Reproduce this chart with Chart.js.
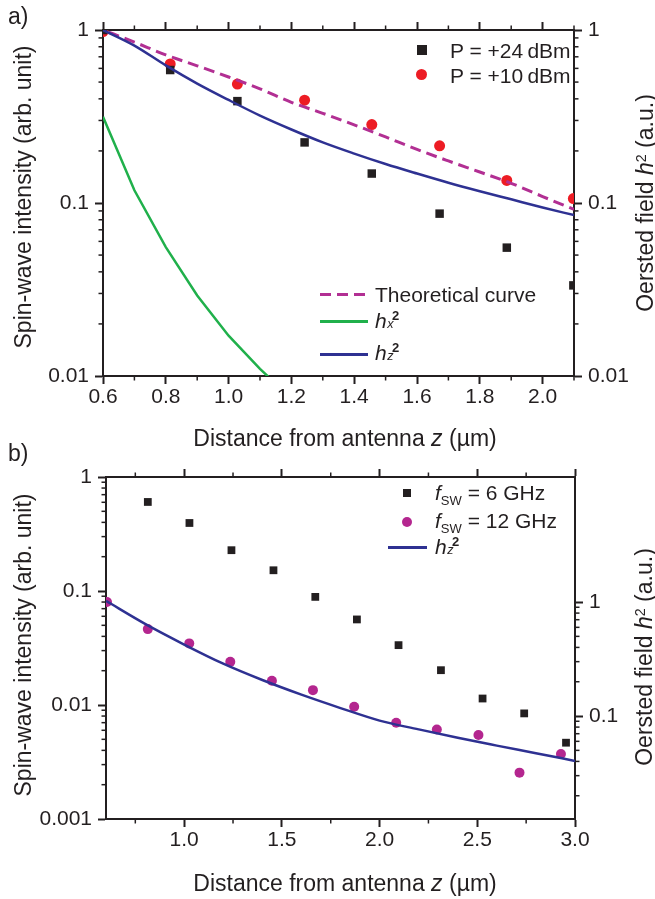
<!DOCTYPE html>
<html>
<head>
<meta charset="utf-8">
<script src="https://cdn.jsdelivr.net/npm/chart.js@4.4.0/dist/chart.umd.min.js"></script>
<style>
body{margin:0;background:#fff;width:655px;height:899px;position:relative;overflow:hidden;font-family:"Liberation Sans",Arial,sans-serif;color:#231f20}
canvas{position:absolute;left:0}
#cA{top:0}
#cB{top:430px}
.t{position:absolute;white-space:nowrap;line-height:1;font-size:23px}
.c{transform:translate(-50%,-50%)}
.r{transform:translate(-50%,-50%) rotate(-90deg)}
.lg{position:absolute;white-space:nowrap;line-height:1;font-size:21px;transform:translateY(-50%)}
.sq{position:absolute;background:#231f20}
.dot{position:absolute;border-radius:50%}
.ln{position:absolute;height:3px}
.ss{display:inline-block;position:relative;width:0.8em;height:1em;vertical-align:top}
.ss .sp{position:absolute;left:0.4em;top:-0.1em;font-size:0.62em;font-weight:bold}
.ss .sb{position:absolute;left:0.05em;top:0.62em;font-size:0.6em;font-style:italic}
.sub{position:relative;top:0.35em;font-size:0.62em}
.sup{position:relative;top:-0.5em;font-size:0.62em}
</style>
</head>
<body>
<canvas id="cA" width="655" height="430"></canvas>
<canvas id="cB" width="655" height="469"></canvas>

<!-- panel a texts -->
<div class="t" style="left:8px;top:5px">a)</div>
<div class="t r" style="left:23px;top:197px">Spin-wave intensity (arb. unit)</div>
<div class="t r" style="left:645px;top:203px">Oersted field <i>h</i><span class="sup">2</span> (a.u.)</div>
<div class="t c" style="left:345px;top:438px">Distance from antenna <i>z</i> (µm)</div>

<div class="sq" style="left:417px;top:45px;width:10px;height:10px"></div>
<div class="lg" style="left:450px;top:50px">P = +24&#8201;dBm</div>
<div class="dot" style="left:416px;top:69px;width:11px;height:11px;background:#ed1c24"></div>
<div class="lg" style="left:450px;top:75px">P = +10&#8201;dBm</div>
<div class="ln" style="left:320px;top:293px;width:48px;background:repeating-linear-gradient(to right,#b22f93 0 11px,transparent 11px 17px)"></div>
<div class="lg" style="left:375px;top:294px">Theoretical curve</div>
<div class="ln" style="left:320px;top:320px;width:48px;background:#20b04b"></div>
<div class="lg" style="left:375px;top:320px"><i>h</i><span class="ss"><span class="sp">2</span><span class="sb">x</span></span></div>
<div class="ln" style="left:320px;top:352.5px;width:48px;background:#2e3192"></div>
<div class="lg" style="left:375px;top:352px"><i>h</i><span class="ss"><span class="sp">2</span><span class="sb">z</span></span></div>

<!-- panel b texts -->
<div class="t" style="left:8px;top:442px">b)</div>
<div class="t r" style="left:23px;top:645px">Spin-wave intensity (arb. unit)</div>
<div class="t r" style="left:644px;top:657px">Oersted field <i>h</i><span class="sup">2</span> (a.u.)</div>
<div class="t c" style="left:345px;top:883px">Distance from antenna <i>z</i> (µm)</div>

<div class="sq" style="left:403px;top:489px;width:8px;height:8px"></div>
<div class="lg" style="left:435px;top:492px"><i>f</i><span class="sub">SW</span> = 6 GHz</div>
<div class="dot" style="left:402px;top:516.5px;width:10px;height:10px;background:#b4268f"></div>
<div class="lg" style="left:435px;top:520px"><i>f</i><span class="sub">SW</span> = 12 GHz</div>
<div class="ln" style="left:388px;top:546px;width:39px;height:2.5px;background:#2e3192"></div>
<div class="lg" style="left:435px;top:546px"><i>h</i><span class="ss"><span class="sp">2</span><span class="sb">z</span></span></div>

<script>
// panel a: curves on a 0.1 µm grid
const aGrid = [0.6, 0.7, 0.8, 0.9, 1.0, 1.1, 1.2, 1.3, 1.4, 1.5, 1.6, 1.7, 1.8, 1.9, 2.0, 2.1];
const aTheory = [1.0, 0.851, 0.718, 0.621, 0.535, 0.457, 0.382, 0.330, 0.283, 0.241, 0.204, 0.175, 0.151, 0.130, 0.109, 0.0918];
const aHz = [1.0, 0.813, 0.624, 0.490, 0.394, 0.320, 0.266, 0.224, 0.193, 0.168, 0.148, 0.131, 0.117, 0.105, 0.0942, 0.0851];
const aHxGrid = [0.6, 0.7, 0.8, 0.9, 1.0, 1.1, 1.2];
const aHx = [0.315, 0.1185, 0.0556, 0.0292, 0.0171, 0.011, 0.0074];
// panel a: measured points
const aMeasDist = [0.6, 0.814, 1.028, 1.242, 1.456, 1.672, 1.886, 2.098];
const aP24 = [1.0, 0.587, 0.388, 0.224, 0.148, 0.0868, 0.0552, 0.0334];
const aP10 = [0.98, 0.636, 0.487, 0.393, 0.284, 0.214, 0.135, 0.106];

// panel b
const bSqDist = [0.814, 1.027, 1.242, 1.457, 1.671, 1.884, 2.097, 2.314, 2.527, 2.74, 2.954];
const b6GHz = [0.604, 0.395, 0.228, 0.152, 0.0888, 0.0563, 0.0335, 0.0202, 0.0114, 0.00844, 0.00467];
const bDotDist = [0.605, 0.814, 1.026, 1.236, 1.449, 1.659, 1.87, 2.085, 2.293, 2.506, 2.716, 2.928];
const b12GHz = [0.0802, 0.0463, 0.0347, 0.0239, 0.0163, 0.0135, 0.00964, 0.00698, 0.0061, 0.00545, 0.00255, 0.00372];
const bHzGrid = [0.6, 0.8, 1.0, 1.2, 1.4, 1.6, 1.8, 2.0, 2.2, 2.4, 2.6, 2.8, 3.0];
const bHz = [1.023, 0.643, 0.424, 0.288, 0.207, 0.154, 0.1175, 0.0912, 0.0764, 0.0644, 0.0550, 0.0472, 0.0404];

// tick values
const aXMajor = [0.6, 0.8, 1.0, 1.2, 1.4, 1.6, 1.8, 2.0];
const aXMinor = [0.7, 0.9, 1.1, 1.3, 1.5, 1.7, 1.9, 2.1];
const aYMajor = [0.01, 0.1, 1];
const bXMajor = [1.0, 1.5, 2.0, 2.5, 3.0];
const bXMinor = [0.75, 1.25, 1.75, 2.25, 2.75];
const bYMajor = [0.001, 0.01, 0.1, 1];
const bY2Major = [0.1, 1];

const ink = '#231f20';
const tickFont = {family: '"Liberation Sans", Arial, sans-serif', size: 21};

// 2..9 inside each decade below the given majors (except the last)
function logMinor(majors) {
    const out = [];
    for (let i = 0; i < majors.length - 1; i++) {
        for (let k = 2; k <= 9; k++) out.push(k * majors[i]);
    }
    return out;
}
function mkTicks(major, minor) {
    return major.map(v => ({value: v, big: true}))
        .concat(minor.map(v => ({value: v, big: false})))
        .sort((a, b) => a.value - b.value);
}
const pts = (xs, ys) => xs.map((x, i) => ({x: x, y: ys[i]}));

// short minor tick marks, drawn through the scales
const minorTicks = {
    id: 'minorTicks',
    afterDraw(chart) {
        const ctx = chart.ctx;
        ctx.save();
        ctx.strokeStyle = ink;
        ctx.lineWidth = 1.5;
        Object.values(chart.scales).forEach(s => {
            s.ticks.forEach(t => {
                if (t.big) return;
                const p = s.getPixelForValue(t.value);
                ctx.beginPath();
                if (s.position === 'left') { ctx.moveTo(s.right, p); ctx.lineTo(s.right - 4.5, p); }
                else if (s.position === 'right') { ctx.moveTo(s.left, p); ctx.lineTo(s.left + 4.5, p); }
                else if (s.position === 'top') { ctx.moveTo(p, s.bottom); ctx.lineTo(p, s.bottom - 4.5); }
                else { ctx.moveTo(p, s.top); ctx.lineTo(p, s.top + 4.5); }
                ctx.stroke();
            });
        });
        ctx.restore();
    }
};

function axis(pos, type, min, max, ticks, size, labels, fmt) {
    const horiz = pos === 'top' || pos === 'bottom';
    return {
        type: type, position: pos, min: min, max: max, z: 1,
        afterBuildTicks: s => { s.ticks = ticks; },
        afterFit: s => { if (horiz) s.height = size; else s.width = size; },
        border: {display: true, color: ink, width: 2},
        grid: {
            drawOnChartArea: false, tickLength: 8, tickWidth: 2,
            tickColor: c => (c.tick && c.tick.big) ? ink : 'rgba(0,0,0,0)'
        },
        ticks: {
            display: labels, autoSkip: false, maxRotation: 0, color: ink, font: tickFont,
            padding: horiz ? 1 : 6,
            callback: (v, i, arr) => arr[i] && arr[i].big ? fmt(v) : ''
        }
    };
}
const fx = v => v.toFixed(1);
const fy = v => String(v);

const common = {
    responsive: false, animation: false, devicePixelRatio: 1,
    layout: {padding: 0, autoPadding: false},
    plugins: {legend: {display: false}, tooltip: {enabled: false}}
};

new Chart(document.getElementById('cA'), {
    type: 'scatter',
    data: {
        datasets: [
            {type: 'line', data: pts(aHxGrid, aHx), yAxisID: 'y2', borderColor: '#20b04b', borderWidth: 2.5, pointRadius: 0, tension: 0, clip: 0},
            {type: 'line', data: pts(aGrid, aHz), yAxisID: 'y2', borderColor: '#2e3192', borderWidth: 2.5, pointRadius: 0, cubicInterpolationMode: 'monotone', clip: 0},
            {type: 'line', data: pts(aGrid, aTheory), borderColor: '#b22f93', borderWidth: 3, borderDash: [11, 6], borderDashOffset: 11, pointRadius: 0, cubicInterpolationMode: 'monotone', clip: 0},
            {data: pts(aMeasDist, aP24), pointStyle: 'rect', pointRadius: 6, backgroundColor: ink, borderWidth: 0, clip: 0},
            {data: pts(aMeasDist, aP10), pointStyle: 'circle', pointRadius: 5.5, backgroundColor: '#ed1c24', borderWidth: 0, clip: 0}
        ]
    },
    options: Object.assign({}, common, {
        scales: {
            x: axis('bottom', 'linear', 0.6, 2.1, mkTicks(aXMajor, aXMinor), 54, true, fx),
            x2: axis('top', 'linear', 0.6, 2.1, mkTicks(aXMajor, aXMinor), 30, false, fx),
            y: axis('left', 'logarithmic', 0.01, 1, mkTicks(aYMajor, logMinor(aYMajor)), 103, true, fy),
            y2: axis('right', 'logarithmic', 0.01, 1, mkTicks(aYMajor, logMinor(aYMajor)), 81, true, fy)
        }
    }),
    plugins: [minorTicks]
});

new Chart(document.getElementById('cB'), {
    type: 'scatter',
    data: {
        datasets: [
            {type: 'line', data: pts(bHzGrid, bHz), yAxisID: 'y2', borderColor: '#2e3192', borderWidth: 2.5, pointRadius: 0, cubicInterpolationMode: 'monotone', clip: 0},
            {data: pts(bSqDist, b6GHz), pointStyle: 'rect', pointRadius: 5.5, backgroundColor: ink, borderWidth: 0, clip: 0},
            {data: pts(bDotDist, b12GHz), pointStyle: 'circle', pointRadius: 5, backgroundColor: '#b4268f', borderWidth: 0, clip: 0}
        ]
    },
    options: Object.assign({}, common, {
        scales: {
            x: axis('bottom', 'linear', 0.6, 3.0, mkTicks(bXMajor, bXMinor), 80, true, fx),
            x2: axis('top', 'linear', 0.6, 3.0, mkTicks(bXMajor, bXMinor), 47, false, fx),
            y: axis('left', 'logarithmic', 0.001, 1, mkTicks(bYMajor, logMinor(bYMajor)), 106, true, fy),
            y2: axis('right', 'logarithmic', 0.0125, 12.5, mkTicks(bY2Major, logMinor([0.01, 0.1, 1]).filter(v => v > 0.0125)), 80, true, fy)
        }
    }),
    plugins: [minorTicks]
});
</script>
</body>
</html>
